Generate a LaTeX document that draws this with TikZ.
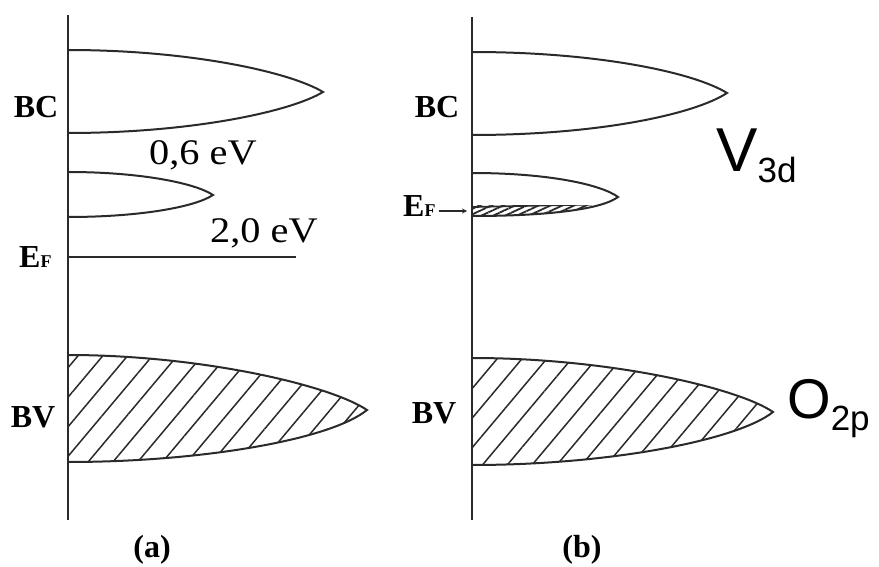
\documentclass[tikz,border=0pt]{standalone}
\usepackage{fontspec}
\setmainfont{Liberation Serif}
\newfontfamily\arialf{Liberation Sans}
\usetikzlibrary{patterns.meta,arrows.meta}
\definecolor{ink}{HTML}{2A2A2A}
\tikzset{
  axisline/.style={draw=ink,line width=2.6pt},
  bandline/.style={draw=ink,line width=2pt},
  hatchA/.style={pattern={Lines[angle=50,distance=19pt,line width=1.5pt]},pattern color=ink},
  hatchB/.style={pattern={Lines[angle=25,distance=5pt,line width=1.8pt]},pattern color=ink},
  blab/.style={font=\fontsize{32}{32}\selectfont\bfseries,inner sep=0pt,anchor=base},
  evlab/.style={font=\fontsize{36}{36}\selectfont,inner sep=0pt,anchor=base west,xscale=1.12},
  orb/.style={font=\arialf,inner sep=0pt,anchor=base west},
}
\newcommand{\EFlab}{{\fontsize{32}{32}\selectfont\bfseries E}{\fontsize{18}{18}\selectfont\bfseries F}}
\begin{document}
\begin{tikzpicture}[x=1pt,y=-1pt]
\useasboundingbox (0,0) rectangle (879,567);
% ---------- panel (a) ----------
\coordinate (atop) at (68,15);
\coordinate (abot) at (68,520);
% BV band (hatched)
\path[hatchA] (68,355) .. controls (200,355) and (330,385) .. (367,410)
  .. controls (330,440) and (200,462) .. (68,462) -- cycle;
\draw[bandline] (68,355) .. controls (200,355) and (330,385) .. (367,410)
  .. controls (330,440) and (200,462) .. (68,462);
% BC band
\draw[bandline] (68,50) .. controls (190,50) and (290,72) .. (323,92)
  .. controls (290,112) and (190,133) .. (68,133);
% small band
\draw[bandline] (68,172) .. controls (140,172) and (195,183) .. (213,195)
  .. controls (195,207) and (140,217) .. (68,217);
% Fermi level line
\coordinate (efaL) at (68,257);
\coordinate (efaR) at (296,257);
\draw[bandline] (efaL) -- (efaR);
\draw[axisline] (atop) -- (abot);
\node[blab] (bca) at (36,118) {BC};
\node[blab] (bva) at (33,427) {BV};
\node[inner sep=0pt,anchor=base west] (efa) at (19,267) {\EFlab};
\node[evlab] (ev06) at (149,165) {0,6 eV};
\node[evlab] (ev20) at (210,242) {2,0 eV};
\node[blab] (capa) at (152,557) {(a)};
% ---------- panel (b) ----------
\coordinate (btop) at (472,17);
\coordinate (bbot) at (472,520);
% BV band (hatched)
\path[hatchA] (472,358) .. controls (610,358) and (738,388) .. (773,412)
  .. controls (738,440) and (610,465) .. (472,465) -- cycle;
\draw[bandline] (472,358) .. controls (610,358) and (738,388) .. (773,412)
  .. controls (738,440) and (610,465) .. (472,465);
% BC band
\draw[bandline] (472,52) .. controls (600,52) and (695,73) .. (727,93)
  .. controls (695,114) and (600,135) .. (472,135);
% small band with partly filled bottom
\begin{scope}
  \clip (472,205.5) rectangle (600,230);
  \path[hatchB] (472,173) .. controls (550,173) and (602,185) .. (618,197)
    .. controls (602,209) and (550,216) .. (472,216) -- cycle;
  \draw[ink,line width=1.8pt] (472,207) -- (592,204.5);
\end{scope}
\draw[bandline] (472,173) .. controls (550,173) and (602,185) .. (618,197)
  .. controls (602,209) and (550,216) .. (472,216);
\draw[axisline] (btop) -- (bbot);
\node[blab] (bcb) at (437,118) {BC};
\node[blab] (bvb) at (434,423) {BV};
\node[inner sep=0pt,anchor=base west] (efb) at (403,217) {\EFlab};
\coordinate (efbax) at (467,211);
\draw[ink,line width=1.4pt,-{Stealth[length=5pt,width=5pt]}] (efb.east |- efbax) ++(3,0) -- (efbax);
\node[orb] (v3d) at (716,172) {\fontsize{62}{62}\selectfont V\raisebox{-11pt}{\fontsize{35}{35}\selectfont 3d}};
\node[orb] (o2p) at (787,418) {\fontsize{56}{56}\selectfont O\raisebox{-12pt}{\fontsize{35}{35}\selectfont 2p}};
\node[blab] (capb) at (582,557) {(b)};
\end{tikzpicture}
\end{document}
